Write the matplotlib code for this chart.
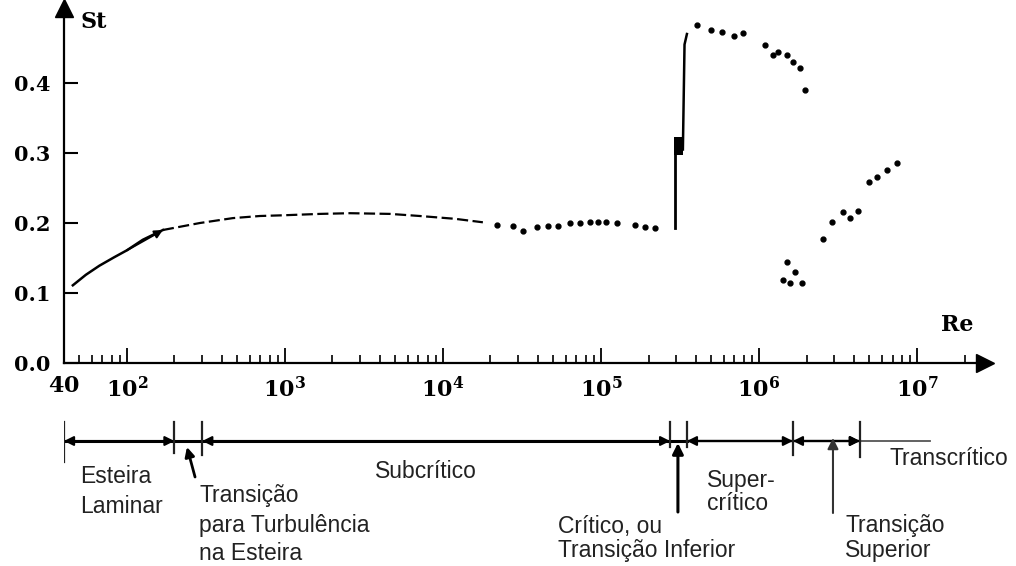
import numpy as np
import matplotlib.pyplot as plt
from matplotlib.ticker import NullFormatter

plt.rcParams['mathtext.fontset'] = 'dejavuserif'

# Strouhal vs Reynolds
re_laminar = [45.5, 55, 67, 83, 100, 126, 169]
st_laminar = [0.111, 0.126, 0.139, 0.151, 0.161, 0.176, 0.190]

re_subfit = [169, 290, 469, 695, 971, 1667, 2576, 4624, 7145, 11900, 17900]
st_subfit = [0.190, 0.200, 0.207, 0.210, 0.211, 0.213, 0.214, 0.213, 0.210, 0.206, 0.201]

re_subdots = [21980, 27730, 32070, 39350, 46220, 53480, 63680, 73660, 85170,
              95700, 107600, 126300, 164000, 189800, 219600]
st_subdots = [0.197, 0.196, 0.189, 0.194, 0.196, 0.196, 0.200, 0.200, 0.201,
              0.201, 0.201, 0.200, 0.197, 0.194, 0.193]

# critical jump: two near-vertical strokes with a dark block between
re_jump1 = [2.94e5, 2.94e5]
st_jump1 = [0.193, 0.320]
re_jump2 = [3.30e5, 3.38e5, 3.50e5]
st_jump2 = [0.305, 0.455, 0.470]
re_block = [2.90e5, 3.30e5]
st_block = [0.297, 0.323]

re_super = [4.057e5, 4.97e5, 5.833e5, 6.95e5, 7.926e5, 1.092e6, 1.227e6,
            1.319e6, 1.503e6, 1.641e6, 1.816e6, 1.954e6]
st_super = [0.483, 0.476, 0.473, 0.467, 0.471, 0.454, 0.440, 0.444, 0.440,
            0.430, 0.421, 0.390]

re_low = [1.503e6, 1.69e6, 1.419e6, 1.57e6, 1.87e6]
st_low = [0.144, 0.130, 0.119, 0.114, 0.114]

re_trans = [2.54e6, 2.90e6, 3.40e6, 3.77e6, 4.24e6, 4.97e6, 5.58e6, 6.46e6, 7.47e6]
st_trans = [0.177, 0.201, 0.216, 0.207, 0.217, 0.259, 0.266, 0.276, 0.286]

xtick_vals = [40, 1e2, 1e3, 1e4, 1e5, 1e6, 1e7]
xtick_labels = [r'$\mathbf{40}$', r'$\mathbf{10^2}$', r'$\mathbf{10^3}$', r'$\mathbf{10^4}$',
                r'$\mathbf{10^5}$', r'$\mathbf{10^6}$', r'$\mathbf{10^7}$']
ytick_vals = [0.0, 0.1, 0.2, 0.3, 0.4]

# regime bar below the axis
regime_edges = [40, 200, 300, 2.74e5, 3.5e5, 1.64e6, 4.35e6]
regime_end = 1.2e7
edge_bottoms = [462, 453, 455, 447, 447, 455, 457]
re_critico = 3.07e5
re_trans_sup = 2.94e6

W, H = 1016, 566
fig = plt.figure(figsize=(W / 100, H / 100), dpi=100)

x0, x1 = 64, 985
y0, ytop = 363, 8
xmax = 10 ** (2 + (x1 - 127) / 158)
ax = fig.add_axes([x0 / W, 1 - y0 / H, (x1 - x0) / W, (y0 - ytop) / H])
ax.set_xscale('log')
ax.set_xlim(40, xmax)
ax.set_ylim(0, (y0 - ytop) / 700)

ax.plot(re_laminar, st_laminar, color='k', lw=1.8)
ax.annotate('', xy=(re_laminar[-1], st_laminar[-1]), xytext=(re_laminar[-3], st_laminar[-3]),
            arrowprops=dict(arrowstyle='-|>', color='k', lw=1.5, mutation_scale=12,
                            shrinkA=0, shrinkB=0))
ax.plot(re_subfit, st_subfit, color='k', lw=1.6, ls=(0, (5, 2)))
ax.plot(re_subdots, st_subdots, 'o', color='k', ms=3.5)
ax.plot(re_jump1, st_jump1, color='k', lw=2)
ax.plot(re_jump2, st_jump2, color='k', lw=1.8)
ax.fill_between(re_block, st_block[0], st_block[1], color='k', lw=0)
ax.plot(re_super, st_super, 'o', color='k', ms=3.5)
ax.plot(re_low, st_low, 'o', color='k', ms=3.5)
ax.plot(re_trans, st_trans, 'o', color='k', ms=3.5)

for s in ['top', 'right']:
    ax.spines[s].set_visible(False)
for s in ['left', 'bottom']:
    ax.spines[s].set_linewidth(1.6)
ax.plot(1, 0, '>', color='k', ms=13, transform=ax.transAxes, clip_on=False)
ax.plot(0, 1, '^', color='k', ms=13, transform=ax.transAxes, clip_on=False)

ax.set_xticks(xtick_vals, xtick_labels)
ax.xaxis.set_minor_formatter(NullFormatter())
ax.set_yticks(ytick_vals, [f'{v:.1f}' for v in ytick_vals])
ax.tick_params(axis='x', which='major', direction='in', length=11, width=1.3, pad=9,
               labelsize=16)
ax.tick_params(axis='x', which='minor', direction='in', length=6, width=1.2)
ax.tick_params(axis='y', direction='in', length=10, width=1.5, pad=10, labelsize=15)
for lab in ax.get_yticklabels():
    lab.set_family('DejaVu Serif')
    lab.set_fontweight('bold')

fig.text(80 / W, 1 - 22 / H, 'St', fontsize=16, family='DejaVu Serif', fontweight='bold',
         va='center', ha='left')
fig.text(957 / W, 1 - 325 / H, 'Re', fontsize=16, family='DejaVu Serif', fontweight='bold',
         va='center', ha='center')

# regime bar
ax2 = fig.add_axes([x0 / W, 0, (x1 - x0) / W, (H - 400) / H])
ax2.set_xscale('log')
ax2.set_xlim(40, xmax)
ax2.set_ylim(H, 400)
ax2.axis('off')

yb = 441
ax2.plot([regime_edges[0], regime_edges[4]], [yb, yb], color='k', lw=2.2)
ax2.plot([regime_edges[4], regime_edges[6]], [yb, yb], color='#222', lw=1.7)
ax2.plot([regime_edges[6], regime_end], [yb, yb], color='#555', lw=1.3)
for e, b in zip(regime_edges, edge_bottoms):
    ax2.plot([e, e], [422, b], color='#222', lw=1.6)

arrow_kw = dict(color='k', lw=1.5, mutation_scale=14, shrinkA=0, shrinkB=0)
for a, b in [(0, 1), (2, 3), (4, 5), (5, 6)]:
    ax2.annotate('', xy=(regime_edges[b], yb), xytext=(regime_edges[a], yb),
                 arrowprops=dict(arrowstyle='<|-|>', **arrow_kw))
ax2.annotate('', xy=(regime_edges[6], yb), xytext=(regime_end * 0.35, yb),
             arrowprops=dict(arrowstyle='-|>', **arrow_kw))
ax2.annotate('', xy=(re_critico, 443), xytext=(re_critico, 512),
             arrowprops=dict(arrowstyle='-|>', color='k', lw=2.2, mutation_scale=16,
                             shrinkA=0, shrinkB=0))
ax2.annotate('', xy=(re_trans_sup, 438), xytext=(re_trans_sup, 513),
             arrowprops=dict(arrowstyle='-|>', color='#333', lw=1.5, mutation_scale=16,
                             shrinkA=0, shrinkB=0))
ax2.annotate('', xy=(240, 447), xytext=(270, 477),
             arrowprops=dict(arrowstyle='-|>', color='k', lw=2, mutation_scale=14,
                             shrinkA=0, shrinkB=0))

labels = [
    ('Esteira', 80, 483), ('Laminar', 80, 513),
    ('Transição', 199, 502), ('para Turbulência', 199, 532), ('na Esteira', 199, 560),
    ('Subcrítico', 375, 478),
    ('Super-', 707, 487), ('crítico', 707, 510),
    ('Crítico, ou', 558, 533), ('Transição Inferior', 558, 557),
    ('Transição', 845, 532), ('Superior', 845, 557),
    ('Transcrítico', 890, 465),
]
for txt, px, py in labels:
    fig.text(px / W, 1 - py / H, txt, fontsize=16.5, family='Liberation Sans',
             color='#222', ha='left', va='baseline')

fig.savefig('out.png', dpi=100)
